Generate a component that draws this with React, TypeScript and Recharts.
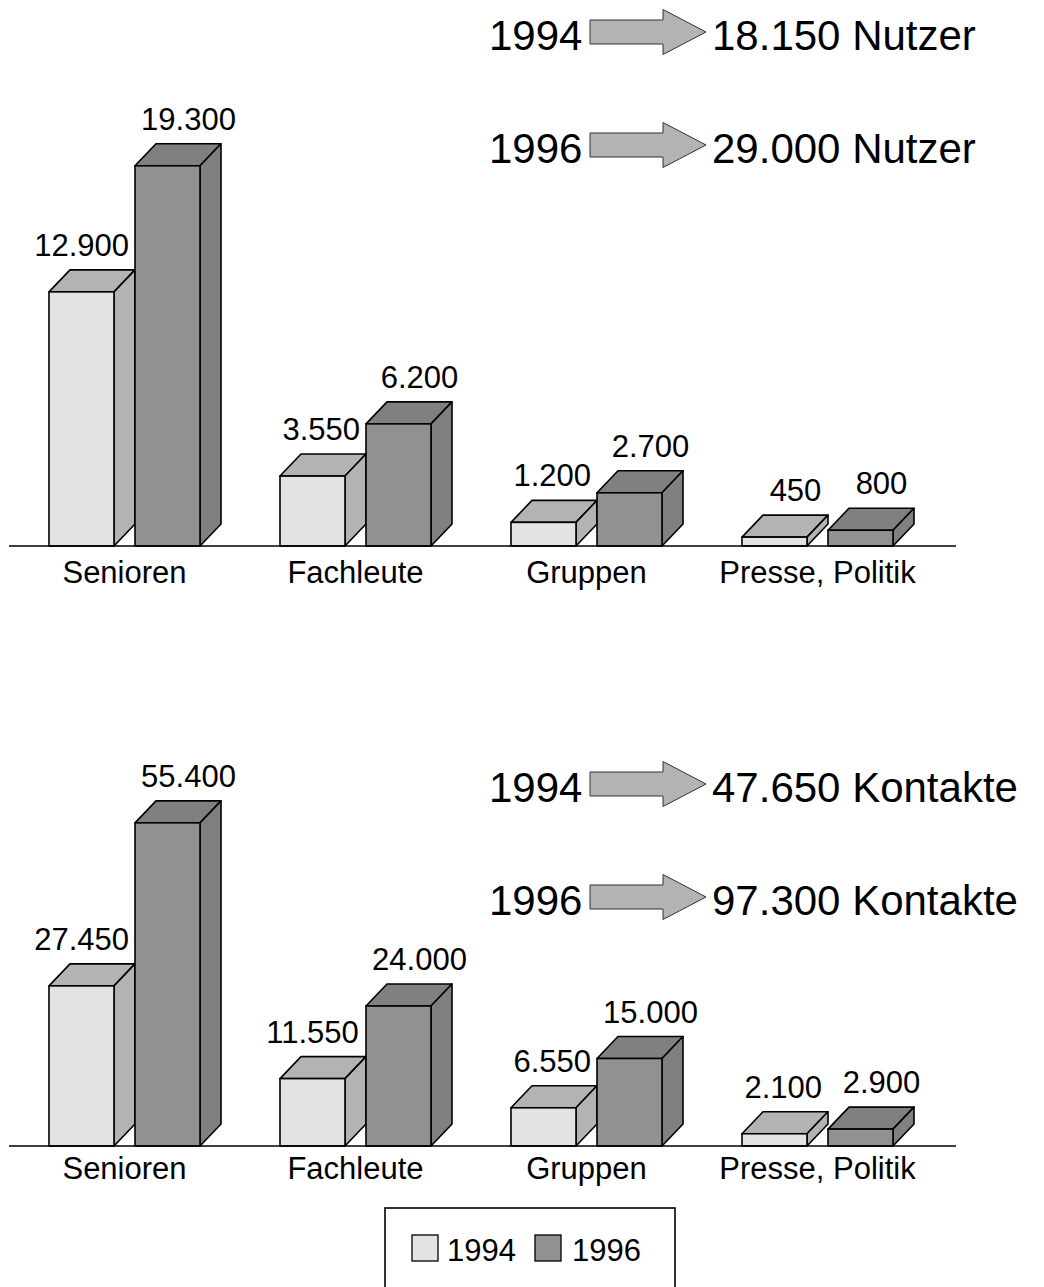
import React from 'react';
import { BarChart, Bar, XAxis, YAxis, LabelList } from 'recharts';

// ---------- data ----------
const categories = ['Senioren', 'Fachleute', 'Gruppen', 'Presse, Politik'];
const years = ['1994', '1996'];
const nutzer1994 = [12900, 3550, 1200, 450];
const nutzer1996 = [19300, 6200, 2700, 800];
const kontakte1994 = [27450, 11550, 6550, 2100];
const kontakte1996 = [55400, 24000, 15000, 2900];
const nutzerTotals = [18150, 29000];
const kontakteTotals = [47650, 97300];

// ---------- styles ----------
const FONT = '"Liberation Sans", Arial, Helvetica, sans-serif';
const DX = 21;
const DY = 22;
const BAR_SIZE = 65;
const BAR_GAP = 21;
const VALUE_FONT = 31;
const COLORS = {
  y1994: { front: '#e3e3e3', top: '#b3b3b3', side: '#b3b3b3' },
  y1996: { front: '#919191', top: '#808080', side: '#808080' },
};

const fmt = (v: number) => String(v).replace(/\B(?=(\d{3})+(?!\d))/g, '.');
const estWidth = (s: string, fs: number) =>
  s.split('').reduce((a, c) => a + (c === '.' ? 0.278 : 0.556), 0) * fs;

const Box3D = (props: any) => {
  const { x, y, width, height, top, side, front } = props;
  if (x == null || y == null) return null;
  const base = y + height;
  const r = x + width;
  const sw = 1.6;
  return (
    <g>
      <polygon
        points={`${x},${y} ${x + DX},${y - DY} ${r + DX},${y - DY} ${r},${y}`}
        fill={top}
        stroke="#000"
        strokeWidth={sw}
        strokeLinejoin="round"
      />
      <polygon
        points={`${r},${y} ${r + DX},${y - DY} ${r + DX},${base - DY} ${r},${base}`}
        fill={side}
        stroke="#000"
        strokeWidth={sw}
        strokeLinejoin="round"
      />
      <rect x={x} y={y} width={width} height={height} fill={front} stroke="#000" strokeWidth={sw} />
    </g>
  );
};

const makeLabel = (first: boolean) => (props: any) => {
  const vb = props.viewBox || {};
  const x = Number(props.x ?? vb.x);
  const y = Number(props.y ?? vb.y);
  const width = Number(props.width ?? vb.width);
  const txt = fmt(Number(props.value));
  const w = estWidth(txt, VALUE_FONT);
  let cx = x + width / 2 + DX;
  if (first) {
    const limit = x + width + BAR_GAP - 6;
    if (cx + w / 2 > limit) cx = limit - w / 2;
  }
  return (
    <text x={cx} y={y - DY - 14} textAnchor="middle" fontSize={VALUE_FONT} fill="#000" fontFamily={FONT}>
      {txt}
    </text>
  );
};

const makeTick = (dy: number) => (props: any) => {
  const { x, y, payload } = props;
  return (
    <text x={x} y={y + dy} textAnchor="middle" fontSize={31} fill="#000" fontFamily={FONT}>
      {payload.value}
    </text>
  );
};

const buildData = (a: number[], b: number[]) =>
  categories.map((c, i) => ({ cat: c, v1994: a[i], v1996: b[i] }));

const nutzerData = buildData(nutzer1994, nutzer1996);
const kontakteData = buildData(kontakte1994, kontakte1996);

const Chart3D = ({ data, max, marginTop, tickDy }: { data: any[]; max: number; marginTop: number; tickDy: number }) => (
  <BarChart
    width={1044}
    height={600}
    data={data}
    margin={{ top: marginTop, right: 88, left: 9, bottom: 4 }}
    barSize={BAR_SIZE}
    barGap={BAR_GAP}
  >
    <XAxis
      dataKey="cat"
      axisLine={{ stroke: '#000', strokeWidth: 1.6 }}
      tickLine={false}
      padding={{ left: 0, right: 23 }}
      height={50}
      interval={0}
      tick={makeTick(tickDy)}
    />
    <YAxis hide domain={[0, max]} />
    <Bar
      dataKey="v1994"
      name={years[0]}
      isAnimationActive={false}
      fill={COLORS.y1994.front}
      shape={(p: any) => <Box3D {...p} {...COLORS.y1994} />}
    >
      <LabelList dataKey="v1994" content={makeLabel(true)} />
    </Bar>
    <Bar
      dataKey="v1996"
      name={years[1]}
      isAnimationActive={false}
      fill={COLORS.y1996.front}
      shape={(p: any) => <Box3D {...p} {...COLORS.y1996} />}
    >
      <LabelList dataKey="v1996" content={makeLabel(false)} />
    </Bar>
  </BarChart>
);

const ArrowRow = ({ year, total, unit, y }: { year: string; total: number; unit: string; y: number }) => {
  // y = arrow centre line
  const bx0 = 590, bx1 = 663, tip = 706;
  const bh = 12, hh = 22.5;
  return (
    <g>
      <text x={489} y={y + 18} fontSize={42} fontFamily={FONT} fill="#000">{year}</text>
      <polygon
        points={`${bx0},${y - bh} ${bx1},${y - bh} ${bx1},${y - hh} ${tip},${y} ${bx1},${y + hh} ${bx1},${y + bh} ${bx0},${y + bh}`}
        fill="#b3b3b3"
        stroke="#333"
        strokeWidth={1}
      />
      <text x={712} y={y + 18} fontSize={42} fontFamily={FONT} fill="#000">{`${fmt(total)} ${unit}`}</text>
    </g>
  );
};

export default function App() {
  // top chart: baseline at 546, 20000 => 394px, top margin 152
  // bottom chart (offset 600): baseline at 550 local, 60000 => 354px, top margin 196
  return (
    <div style={{ position: 'absolute', left: 0, top: 0, width: 1044, height: 1287, background: '#fff', fontFamily: FONT }}>
      <div style={{ position: 'absolute', left: 0, top: 0 }}>
        <Chart3D data={nutzerData} max={20000} marginTop={152} tickDy={29} />
      </div>
      <div style={{ position: 'absolute', left: 0, top: 600 }}>
        <Chart3D data={kontakteData} max={60000} marginTop={196} tickDy={25} />
      </div>
      <svg width={1044} height={1287} style={{ position: 'absolute', left: 0, top: 0, pointerEvents: 'none' }}>
        <ArrowRow year={years[0]} total={nutzerTotals[0]} unit="Nutzer" y={32} />
        <ArrowRow year={years[1]} total={nutzerTotals[1]} unit="Nutzer" y={145} />
        <ArrowRow year={years[0]} total={kontakteTotals[0]} unit="Kontakte" y={784} />
        <ArrowRow year={years[1]} total={kontakteTotals[1]} unit="Kontakte" y={897} />
        {/* legend */}
        <rect x={385} y={1208} width={290} height={100} fill="#fff" stroke="#000" strokeWidth={1.6} />
        <rect x={412} y={1235} width={26} height={26} fill={COLORS.y1994.front} stroke="#000" strokeWidth={1.3} />
        <text x={447} y={1261} fontSize={31} fontFamily={FONT} fill="#000">{years[0]}</text>
        <rect x={535} y={1235} width={26} height={26} fill={COLORS.y1996.front} stroke="#000" strokeWidth={1.3} />
        <text x={572} y={1261} fontSize={31} fontFamily={FONT} fill="#000">{years[1]}</text>
      </svg>
    </div>
  );
}
